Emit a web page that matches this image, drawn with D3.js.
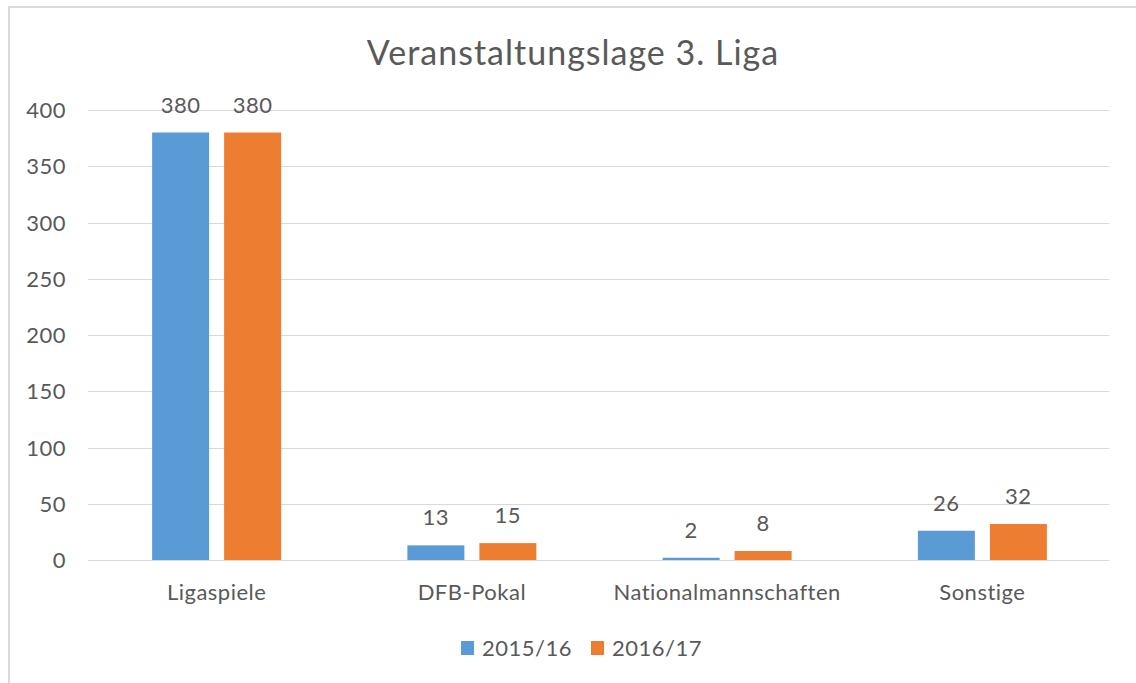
<!DOCTYPE html>
<html><head><meta charset="utf-8">
<script src="https://cdn.jsdelivr.net/npm/d3@7"></script>
<style>
html,body{margin:0;padding:0;background:#fff;}
svg{display:block;}
text{font-family:Lato,"Open Sans",sans-serif;fill:#595959;}
</style></head>
<body>
<svg id="chart" width="1136" height="683"></svg>
<script>
const title = "Veranstaltungslage 3. Liga";
const categories = ["Ligaspiele", "DFB-Pokal", "Nationalmannschaften", "Sonstige"];
const seriesNames = ["2015/16", "2016/17"];
const values2015 = [380, 13, 2, 26];
const values2016 = [380, 15, 8, 32];
const yTicks = [0, 50, 100, 150, 200, 250, 300, 350, 400];
const colors = ["#5B9BD5", "#ED7D31"];

const seriesValues = [values2015, values2016];
const svg = d3.select("#chart");
const W = 1136, H = 683;
const plot = {left: 88, right: 1109, top: 110, bottom: 560};
const FONT = "Lato, 'Open Sans', sans-serif";

// border
svg.append("path")
  .attr("d", `M9,${H} V7 H${W}`)
  .attr("fill", "none").attr("stroke", "#D9D9D9").attr("stroke-width", 2);

const x = d3.scaleBand().domain(categories).range([plot.left + 1, plot.right + 1]).paddingInner(0).paddingOuter(0);
const y = d3.scaleLinear().domain([0, 400]).range([plot.bottom, plot.top]);
const groupW = 129;
const xs = d3.scaleBand().domain(seriesNames).range([0, groupW]).paddingInner(15/129*2 / (1 + 15/129)).paddingOuter(0);

// gridlines
svg.append("g").selectAll("line").data(yTicks).join("line")
  .attr("x1", plot.left).attr("x2", plot.right)
  .attr("y1", d => Math.round(y(d)) + 0.5).attr("y2", d => Math.round(y(d)) + 0.5)
  .attr("stroke", "#D9D9D9").attr("stroke-width", 1);

// y axis labels
const yAxis = d3.axisLeft(y).tickValues(yTicks).tickSize(0).tickPadding(0);
const gy = svg.append("g").attr("transform", `translate(66,0)`).call(yAxis);
gy.select(".domain").remove();
gy.selectAll("text").style("font-size", "22px").style("letter-spacing", "0.5px").attr("fill", "#595959").attr("dy", "0.35em")
  .style("font-family", FONT);

// x axis labels
const xAxis = d3.axisBottom(x).tickSize(0).tickPadding(0);
const gx = svg.append("g").attr("transform", `translate(0,${plot.bottom + 24})`).call(xAxis);
gx.select(".domain").remove();
gx.selectAll("text").style("font-size", "22px").style("letter-spacing", "0.5px").attr("fill", "#595959")
  .style("font-family", FONT);

// bars
const groups = svg.append("g").selectAll("g").data(categories).join("g")
  .attr("transform", c => `translate(${x(c) + (x.bandwidth() - groupW) / 2},0)`);
groups.each(function(c, ci) {
  const g = d3.select(this);
  seriesNames.forEach((s, si) => {
    const v = seriesValues[si][ci];
    g.append("rect")
      .attr("x", xs(s)).attr("width", xs.bandwidth())
      .attr("y", y(v)).attr("height", y(0) - y(v))
      .attr("fill", colors[si]);
    g.append("text")
      .attr("x", xs(s) + xs.bandwidth() / 2).attr("y", y(v) - 20)
      .attr("text-anchor", "middle").style("font-size", "22px").style("letter-spacing", "0.5px").text(v);
  });
});

// title
svg.append("text").attr("x", 573).attr("y", 65).attr("text-anchor", "middle")
  .style("font-size", "34px").style("letter-spacing", "1px").text(title);

// legend
const legendItems = [{name: seriesNames[0], sx: 461, tx: 482}, {name: seriesNames[1], sx: 591, tx: 612}];
const lg = svg.append("g");
lg.selectAll("rect").data(legendItems).join("rect")
  .attr("x", d => d.sx).attr("y", 641).attr("width", 13).attr("height", 14)
  .attr("fill", (d, i) => colors[i]);
lg.selectAll("text").data(legendItems).join("text")
  .attr("x", d => d.tx).attr("y", 656).style("font-size", "22px").style("letter-spacing", "0.5px").text(d => d.name);
</script>
</body></html>
